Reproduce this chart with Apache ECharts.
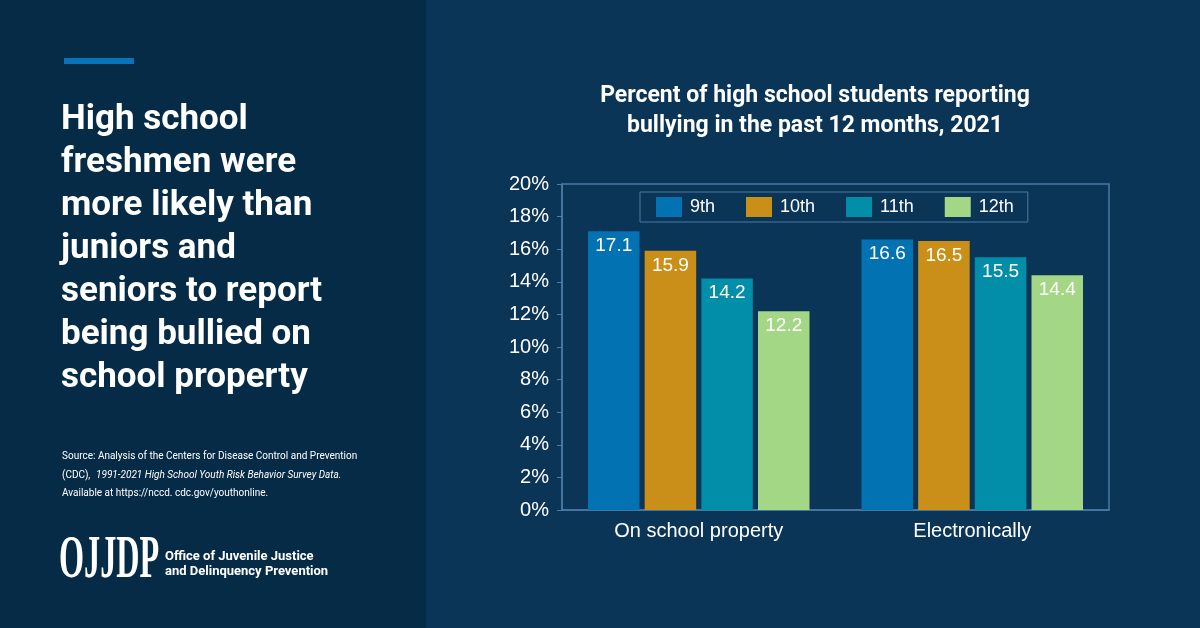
<!DOCTYPE html>
<html>
<head>
<meta charset="utf-8">
<script src="https://cdn.jsdelivr.net/npm/echarts@6/dist/echarts.min.js"></script>
<style>
  html, body { margin: 0; padding: 0; background: #0b3556; }
  #main { width: 1200px; height: 628px; }
</style>
</head>
<body>
<div id="main"></div>
<script>
// data
var categories = ['On school property', 'Electronically'];
var grades = ['9th', '10th', '11th', '12th'];
var grade9 = [17.1, 16.6];
var grade10 = [15.9, 16.5];
var grade11 = [14.2, 15.5];
var grade12 = [12.2, 14.4];
var gradeColors = ['#0272b3', '#c98f19', '#028da9', '#a3d785'];

var headline = [
  'High school',
  'freshmen were',
  'more likely than',
  'juniors and',
  'seniors to report',
  'being bullied on',
  'school property'
];

var chart = echarts.init(document.getElementById('main'));

var allValues = [grade9, grade10, grade11, grade12];

// series built from the arrays above
var series = grades.map(function (g, i) {
  return {
    name: g,
    type: 'bar',
    data: allValues[i],
    barGap: '10%',
    barCategoryGap: '19%',
    itemStyle: { color: gradeColors[i] },
    label: {
      show: true,
      position: 'insideTop',
      distance: 5,
      color: '#ffffff',
      fontFamily: 'Liberation Sans, Arial',
      fontSize: 19,
      formatter: function (p) { return p.value.toFixed(1); }
    }
  };
});

var option = {
  backgroundColor: '#0b3556',
  animation: false,
  title: {
    text: 'Percent of high school students reporting\nbullying in the past 12 months, 2021',
    left: 810,
    top: 76,
    textAlign: 'center',
    textStyle: {
      color: '#ffffff',
      fontFamily: 'Roboto',
      fontWeight: 'bold',
      fontSize: 23,
      lineHeight: 30
    }
  },
  legend: {
    data: grades,
    left: 640,
    top: 192,
    padding: [5, 14, 5, 16],
    icon: 'rect',
    itemWidth: 26,
    itemHeight: 20,
    itemGap: 31,
    borderColor: '#4a7aa6',
    borderWidth: 1,
    textStyle: {
      color: '#ffffff',
      fontFamily: 'Liberation Sans, Arial',
      fontSize: 18,
      padding: [0, 0, 0, 3]
    }
  },
  grid: {
    left: 562,
    right: 91,
    top: 184,
    bottom: 118,
    show: true,
    borderColor: '#4a7aa6',
    borderWidth: 1.5
  },
  xAxis: {
    type: 'category',
    data: categories,
    axisLine: { lineStyle: { color: '#4a7aa6', width: 1.5 } },
    axisTick: { show: false },
    axisLabel: {
      color: '#ffffff',
      fontFamily: 'Liberation Sans, Arial',
      fontSize: 20,
      margin: 11
    }
  },
  yAxis: {
    type: 'value',
    min: 0,
    max: 20,
    interval: 2,
    axisLine: { show: true, lineStyle: { color: '#4a7aa6', width: 1.5 } },
    axisTick: { show: true, length: 5, lineStyle: { color: '#4a7aa6' } },
    splitLine: { show: false },
    axisLabel: {
      color: '#ffffff',
      fontFamily: 'Liberation Sans, Arial',
      fontSize: 20,
      margin: 13,
      formatter: '{value}%'
    }
  },
  graphic: [
    // left panel
    { type: 'rect', left: 0, top: 0, z: -10, shape: { width: 426, height: 628 }, style: { fill: '#062b46' } },
    { type: 'rect', left: 64, top: 58, shape: { width: 70, height: 6 }, style: { fill: '#0a72b8' } },
    {
      type: 'text', left: 61, top: 99,
      style: {
        text: headline.join('\n'),
        fill: '#ffffff',
        font: 'bold 35px Roboto',
        lineHeight: 43
      }
    },
    {
      type: 'text', left: 62, top: 451,
      style: {
        text: 'Source: Analysis of the Centers for Disease Control and Prevention',
        fill: '#ffffff', font: '10px Roboto'
      }
    },
    {
      type: 'text', left: 62, top: 470,
      style: {
        text: '(CDC), ',
        fill: '#ffffff', font: '10px Roboto'
      }
    },
    {
      type: 'text', left: 96, top: 470,
      style: {
        text: '1991-2021 High School Youth Risk Behavior Survey Data.',
        fill: '#ffffff', font: 'italic 10px Roboto'
      }
    },
    {
      type: 'text', left: 62, top: 488,
      style: {
        text: 'Available at https://nccd. cdc.gov/youthonline.',
        fill: '#ffffff', font: '10px Roboto'
      }
    },
    {
      type: 'text', x: 59, y: 530, scaleX: 0.52,
      style: {
        text: 'OJJDP',
        fill: '#ffffff', font: 'bold 62px "Liberation Serif", serif'
      }
    },
    {
      type: 'text', left: 165, top: 549,
      style: {
        text: 'Office of Juvenile Justice\nand Delinquency Prevention',
        fill: '#ffffff', font: 'bold 13px Roboto', lineHeight: 15
      }
    }
  ],
  series: series
};

chart.setOption(option);
</script>
</body>
</html>
